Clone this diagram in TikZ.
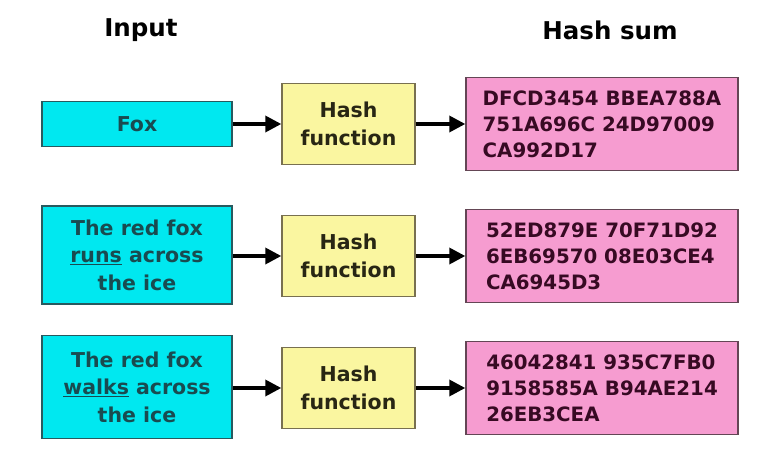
\documentclass[tikz,border=0pt]{standalone}
\usepackage{fontspec}
\setmainfont{DejaVu Sans}
\usetikzlibrary{arrows.meta}
\definecolor{inputfill}{RGB}{0,232,240}
\definecolor{inputline}{RGB}{40,90,95}
\definecolor{inputtext}{RGB}{25,75,80}
\definecolor{hashfill}{RGB}{250,246,160}
\definecolor{hashline}{RGB}{120,112,80}
\definecolor{hashtext}{RGB}{40,38,20}
\definecolor{sumfill}{RGB}{246,156,208}
\definecolor{sumline}{RGB}{100,70,85}
\definecolor{sumtext}{RGB}{55,10,35}
\tikzset{
  box/.style={draw, line width=1.4pt, inner sep=0pt, align=center,
    font=\bfseries\fontsize{20.5}{27.5}\selectfont},
  inbox/.style={box, fill=inputfill, draw=inputline, text=inputtext, minimum width=190pt},
  hashbox/.style={box, fill=hashfill, draw=hashline, text=hashtext,
    minimum width=133pt, minimum height=81pt},
  sumbox/.style={box, fill=sumfill, draw=sumline, text=sumtext, align=left,
    font=\bfseries\fontsize{19.8}{26}\selectfont,
    minimum width=272pt, minimum height=93pt},
  heading/.style={font=\bfseries\fontsize{24.5}{28}\selectfont},
  flow/.style={line width=3.4pt, -{Triangle[length=16pt,width=16pt]}},
}
\begin{document}
\begin{tikzpicture}[x=1pt,y=-1pt]
\useasboundingbox (0,0) rectangle (761,472);
\fill[white] (0,0) rectangle (761,472);

\node[heading] (hin) at (141,30) {Input};
\node[heading] (hsum) at (610,30) {Hash sum};

% first row
\node[inbox, minimum height=45pt] (in1) at (137,124) {Fox};
\node[hashbox] (h1) at (348.5,124) {Hash\\function};
\node[sumbox] (s1) at (602,124) {DFCD3454 BBEA788A\\751A696C 24D97009\\CA992D17};

% second row
\node[inbox, minimum height=98pt] (in2) at (137,255) {The red fox\\\underline{runs} across\\the ice};
\node[hashbox] (h2) at (348.5,256) {Hash\\function};
\node[sumbox] (s2) at (602,256) {52ED879E 70F71D92\\6EB69570 08E03CE4\\CA6945D3};

% third row
\node[inbox, minimum height=103pt] (in3) at (137,387) {The red fox\\\underline{walks} across\\the ice};
\node[hashbox] (h3) at (348.5,388) {Hash\\function};
\node[sumbox] (s3) at (602,388) {46042841 935C7FB0\\9158585A B94AE214\\26EB3CEA};

\foreach \i in {1,2,3} {
  \draw[flow] (in\i.east |- h\i.west) -- (h\i.west);
  \draw[flow] (h\i.east) -- (s\i.west);
}
\end{tikzpicture}
\end{document}
